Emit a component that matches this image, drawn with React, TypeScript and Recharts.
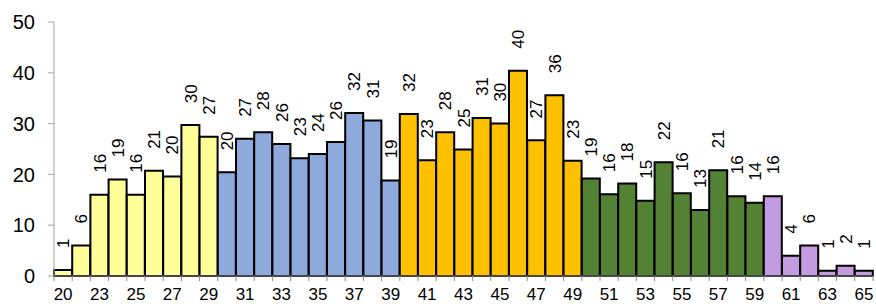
import { Bar, BarChart, Cell, LabelList, XAxis, YAxis } from "recharts";

const ages = [
  "20", "22", "23", "24", "25", "26", "27", "28", "29",
  "30", "31", "32", "33", "34", "35", "36", "37", "38", "39",
  "40", "41", "42", "43", "44", "45", "46", "47", "48", "49",
  "50", "51", "52", "53", "54", "55", "56", "57", "58", "59",
  "60", "61", "62", "63", "64", "65",
];

const counts = [
  1.2, 6.0, 16.0, 19.0, 16.0, 20.7, 19.6, 29.7, 27.4,
  20.4, 27.0, 28.3, 26.0, 23.2, 24.0, 26.4, 32.1, 30.6, 18.8,
  31.9, 22.8, 28.3, 24.9, 31.1, 30.0, 40.4, 26.7, 35.6, 22.7,
  19.2, 16.1, 18.2, 14.8, 22.4, 16.3, 13.0, 20.8, 15.7, 14.4,
  15.7, 4.0, 6.0, 1.05, 2.0, 1.05,
];

const yTicks = [0, 10, 20, 30, 40, 50];

const decadeColors: Record<string, string> = {
  "2": "#FFFF99",
  "3": "#8EA9DB",
  "4": "#FFC000",
  "5": "#548235",
  "6": "#C39BE0",
};

const chartData = ages.map((age, i) => ({ age, count: counts[i] }));

const W = 876;
const H = 304;
const LEFT = 54;
const RIGHT = 3;
const BAND = (W - LEFT - RIGHT) / ages.length;

const AgeTick = (props: any) => {
  const { x, y, payload } = props;
  const idx = payload.index;
  const left = x - BAND / 2;
  return (
    <g>
      <line x1={left} y1={y} x2={left} y2={y + 5} stroke="#8c8c8c" strokeWidth={1} />
      {idx === ages.length - 1 && (
        <line x1={x + BAND / 2} y1={y} x2={x + BAND / 2} y2={y + 5} stroke="#8c8c8c" strokeWidth={1} />
      )}
      {idx % 2 === 0 && (
        <text
          x={x}
          y={y + 24}
          textAnchor="middle"
          fontSize={17}
          fontFamily="Liberation Sans, Arial, sans-serif"
          fill="#000"
        >
          {payload.value}
        </text>
      )}
    </g>
  );
};

const ValueLabel = (props: any) => {
  const { x, y, width, value } = props;
  const cx = x + width / 2;
  const cy = y - 22;
  return (
    <text
      x={cx}
      y={cy}
      dy="0.36em"
      transform={`rotate(-90 ${cx} ${cy})`}
      textAnchor="start"
      fontSize={17}
      fontFamily="Liberation Sans, Arial, sans-serif"
      fill="#000"
    >
      {Math.round(value)}
    </text>
  );
};

export default function App() {
  return (
    <div style={{ position: "absolute", left: 0, top: 0, background: "#fff" }}>
      <BarChart
        width={W}
        height={H}
        data={chartData}
        margin={{ top: 22, right: RIGHT, bottom: 4, left: 0 }}
        barCategoryGap={0}
        barGap={0}
      >
        <XAxis
          dataKey="age"
          interval={0}
          tickSize={0}
          tickMargin={0}
          height={24}
          axisLine={{ stroke: "#8c8c8c" }}
          tickLine={false}
          tick={<AgeTick />}
        />
        <YAxis
          width={LEFT}
          domain={[0, 50]}
          ticks={yTicks}
          interval={0}
          tickSize={6}
          tickMargin={13}
          axisLine={{ stroke: "#a6a6a6" }}
          tickLine={{ stroke: "#a6a6a6" }}
          tick={{ fontSize: 20, fill: "#000", fontFamily: "Liberation Sans, Arial, sans-serif" }}
        />
        <Bar dataKey="count" stroke="#000" strokeWidth={2} isAnimationActive={false}>
          {chartData.map((d, i) => (
            <Cell key={i} fill={decadeColors[d.age[0]]} />
          ))}
          <LabelList dataKey="count" content={<ValueLabel />} />
        </Bar>
      </BarChart>
    </div>
  );
}
